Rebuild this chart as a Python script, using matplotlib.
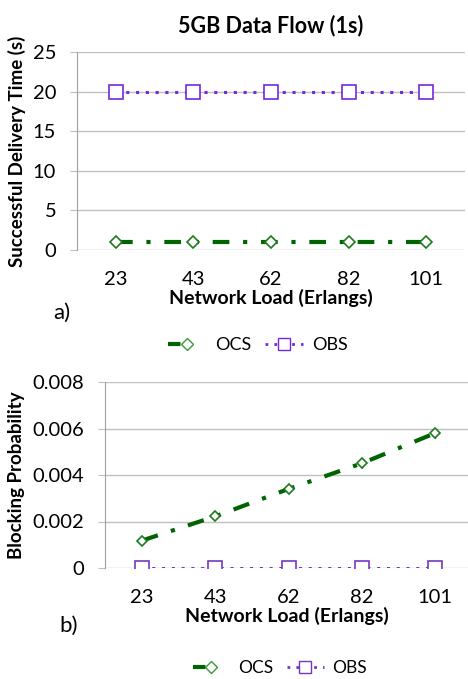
import numpy as np
import matplotlib.pyplot as plt
from matplotlib.lines import Line2D

loads = ['23', '43', '62', '82', '101']

# panel a) successful delivery time (s)
ocs_time = [1, 1, 1, 1, 1]
obs_time = [20, 20, 20, 20, 20]

# panel b) blocking probability
ocs_block = [0.00118, 0.00222, 0.00340, 0.00450, 0.00580]
ocs_block_err = [0.0001, 0.00012, 0.00015, 0.00018, 0.0002]
obs_block = [0, 0, 0, 0, 0]

plt.rcParams['font.family'] = ['Lato', 'DejaVu Sans']

green = '#006400'
purple_a = '#7428e0'
purple_b = '#7438c0'
gridc = '#c0c0c0'
dashdot = (0, (4, 3.3, 1, 3.3))
dotted = (0, (1, 2.2))

W, H = 468, 679
fig = plt.figure(figsize=(W / 100, H / 100), dpi=100)

def rect(l, t, r, b):
    return [l / W, 1 - b / H, (r - l) / W, (b - t) / H]

def style(ax):
    for s in ['top', 'right', 'bottom']:
        ax.spines[s].set_visible(False)
    ax.spines['left'].set_color('#a0a0a0')
    ax.grid(axis='y', color=gridc, linewidth=1)
    ax.set_axisbelow(True)
    ax.tick_params(axis='y', length=5, color=gridc, labelsize=14.5, pad=10)
    ax.tick_params(axis='x', length=0, labelsize=14.5, pad=15)
    ax.set_xticks(np.arange(len(loads)))
    ax.set_xticklabels(loads)

x = np.arange(len(loads))

# ---- a)
ax0 = fig.add_axes(rect(77, 52, 465, 250))
ax0.plot(x, obs_time, color=purple_a, linestyle=dotted, linewidth=2.2,
         marker='s', markersize=9.5, markerfacecolor='white', markeredgecolor=purple_a,
         markeredgewidth=1.2)
ax0.plot(x, ocs_time, color=green, linestyle=dashdot, linewidth=3,
         marker='D', markersize=6.5, markerfacecolor='white', markeredgecolor='#1e7a1e',
         markeredgewidth=1.2)
ax0.set_xlim(-0.5, 4.5)
ax0.set_ylim(0, 25)
ax0.set_yticks([0, 5, 10, 15, 20, 25])
style(ax0)
ax0.set_title('5GB Data Flow (1s)', fontsize=15.5, fontweight='bold', pad=14)
ax0.set_xlabel('Network Load (Erlangs)', fontsize=14, fontweight='bold', labelpad=1)
ax0.set_ylabel('Successful Delivery Time (s)', fontsize=13.5, fontweight='bold', labelpad=5)
fig.text(62 / W, 1 - 313 / H, 'a)', fontsize=16, ha='center', va='center')

# ---- b)
ax1 = fig.add_axes(rect(105, 382, 468, 568))
ax1.plot(x, obs_block, color=purple_b, linestyle=dotted, linewidth=2.2,
         marker='s', markersize=9.5, markerfacecolor='white', markeredgecolor=purple_b,
         markeredgewidth=1.2)
ax1.errorbar(x, ocs_block, yerr=ocs_block_err, color=green,
             linestyle=dashdot, linewidth=3,
             marker='D', markersize=5.5, markerfacecolor='white', markeredgecolor='#1e7a1e',
             markeredgewidth=1.2, ecolor=green, elinewidth=1, capsize=0)
ax1.set_xlim(-0.505, 4.45)
ax1.set_ylim(0, 0.008)
ax1.set_yticks([0, 0.002, 0.004, 0.006, 0.008])
ax1.set_yticklabels(['0', '0.002', '0.004', '0.006', '0.008'])
style(ax1)
ax1.set_xlabel('Network Load (Erlangs)', fontsize=14, fontweight='bold', labelpad=1)
ax1.set_ylabel('Blocking Probability', fontsize=13.5, fontweight='bold', labelpad=5)
fig.text(69 / W, 1 - 626 / H, 'b)', fontsize=16, ha='center', va='center')

def legend_handles(pc):
    h_ocs = Line2D([], [], color=green, linestyle=(0, (3, 1.5, 0.8, 6)), linewidth=3,
                   marker='D', markersize=6, markerfacecolor='white',
                   markeredgecolor='#3a9a3a', markeredgewidth=1)
    h_obs = Line2D([], [], color=pc, linestyle=dotted, linewidth=2, marker='s',
                   markersize=8.5, markerfacecolor='white', markeredgecolor=pc,
                   markeredgewidth=1)
    return [h_ocs, h_obs]

fig.legend(legend_handles(purple_a), ['OCS', 'OBS'], loc='center',
           bbox_to_anchor=(258 / W, 1 - 345 / H), ncol=2, frameon=False,
           fontsize=13, handlelength=2.1, columnspacing=0.8, handletextpad=0.5,
           borderpad=0.2)
fig.legend(legend_handles(purple_b), ['OCS', 'OBS'], loc='center',
           bbox_to_anchor=(280 / W, 1 - 668 / H), ncol=2, frameon=False,
           fontsize=12.5, handlelength=2.1, columnspacing=0.8, handletextpad=0.5,
           borderpad=0.2)

fig.savefig('out.png', dpi=100)
